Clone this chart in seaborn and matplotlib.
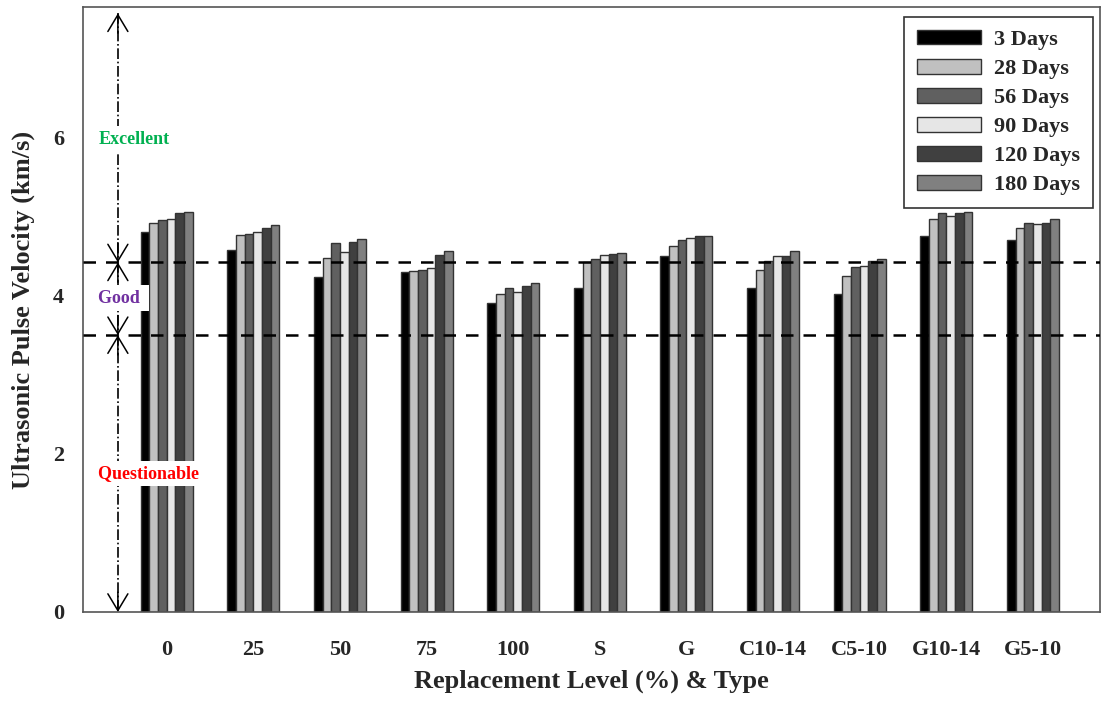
import matplotlib
matplotlib.use("Agg")
import matplotlib.pyplot as plt
import seaborn as sns
import pandas as pd

# categories and series
groups = ["0", "25", "50", "75", "100", "S", "G", "C10-14", "C5-10", "G10-14", "G5-10"]
ages = ["3 Days", "28 Days", "56 Days", "90 Days", "120 Days", "180 Days"]
upv_3 = [4.80, 4.58, 4.24, 4.30, 3.91, 4.10, 4.50, 4.10, 4.02, 4.75, 4.70]
upv_28 = [4.92, 4.77, 4.47, 4.31, 4.02, 4.42, 4.63, 4.32, 4.25, 4.97, 4.86]
upv_56 = [4.96, 4.78, 4.66, 4.33, 4.10, 4.46, 4.70, 4.44, 4.36, 5.05, 4.92]
upv_90 = [4.97, 4.81, 4.55, 4.35, 4.04, 4.52, 4.73, 4.50, 4.37, 5.01, 4.91]
upv_120 = [5.04, 4.85, 4.68, 4.51, 4.12, 4.53, 4.76, 4.50, 4.44, 5.05, 4.92]
upv_180 = [5.06, 4.89, 4.72, 4.57, 4.16, 4.54, 4.76, 4.56, 4.46, 5.06, 4.97]
bar_colors = ["#000000", "#c0c0c0", "#606060", "#e6e6e6", "#404040", "#808080"]

# quality class limits (km/s)
good_upper = 4.42
good_lower = 3.5

series = [upv_3, upv_28, upv_56, upv_90, upv_120, upv_180]
rows = []
for age, vals in zip(ages, series):
    for g, v in zip(groups, vals):
        rows.append({"group": g, "age": age, "upv": v})
df = pd.DataFrame(rows)

sns.set_style("white")
plt.rcParams["font.family"] = ["Liberation Serif", "DejaVu Serif"]
plt.rcParams["font.weight"] = "bold"

fig, ax = plt.subplots(figsize=(11.04, 7.01), dpi=100)
fig.subplots_adjust(left=0.075, right=0.996, top=0.99, bottom=0.127)

sns.barplot(data=df, x="group", y="upv", hue="age", order=groups, hue_order=ages,
            palette=bar_colors, width=0.6, edgecolor="#333333", linewidth=1.0,
            ax=ax, zorder=2)

ax.set_xlim(-0.97, 10.77)
ax.set_ylim(0, 7.65)
ax.set_yticks([0, 2, 4, 6])
for sp in ax.spines.values():
    sp.set_color("#555555")
    sp.set_linewidth(1.2)
ax.tick_params(axis="both", direction="out", length=10, width=1.2, color="#555555",
               labelsize=16)
ax.tick_params(axis="x", length=12, pad=8)
ax.set_xlabel("Replacement Level (%) & Type", fontsize=19, fontweight="bold", labelpad=7)
ax.set_ylabel("Ultrasonic Pulse Velocity (km/s)", fontsize=19, fontweight="bold", labelpad=13)

# class boundaries
ax.axhline(good_upper, color="black", lw=1.8, ls=(0, (5, 4)), zorder=3)
ax.axhline(good_lower, color="black", lw=1.8, ls=(0, (5, 4)), zorder=3)

# dash-dot range arrows on the left
xa = -0.565
ranges = [(7.57, good_upper), (good_upper, good_lower), (good_lower, 0.0)]
for top, bot in ranges:
    ax.plot([xa, xa], [top, bot], color="black", lw=1.2, ls="-.", zorder=3)
    for tip, tail in [(top, top - 0.25), (bot, bot + 0.25)]:
        ax.annotate("", xy=(xa, tip), xytext=(xa, tail),
                    arrowprops=dict(arrowstyle="->,head_length=0.5,head_width=0.3",
                                    color="black", lw=1.1, mutation_scale=24,
                                    shrinkA=0, shrinkB=0), zorder=4)

box = dict(facecolor="white", edgecolor="none", pad=3)
ax.text(-0.79, 5.98, "Excellent", color="#00b050", fontsize=13, fontweight="bold",
        va="center", ha="left", bbox=box, zorder=5)
ax.text(-0.79, 3.97, "Good ", color="#7030a0", fontsize=13, fontweight="bold",
        va="center", ha="left", bbox=box, zorder=5)
ax.text(-0.79, 1.75, "Questionable   ", color="#ff0000", fontsize=13, fontweight="bold",
        va="center", ha="left", bbox=box, zorder=5)

leg = ax.legend(loc="upper right", bbox_to_anchor=(0.9985, 0.992), borderaxespad=0.25,
                prop=dict(weight="bold", size=16),
                frameon=True, fancybox=False, edgecolor="#333333", framealpha=1,
                handlelength=2.9, handleheight=0.65, labelspacing=0.4,
                borderpad=0.55, handletextpad=0.6)
leg.get_frame().set_linewidth(1.2)

fig.savefig("out.png", dpi=100)
